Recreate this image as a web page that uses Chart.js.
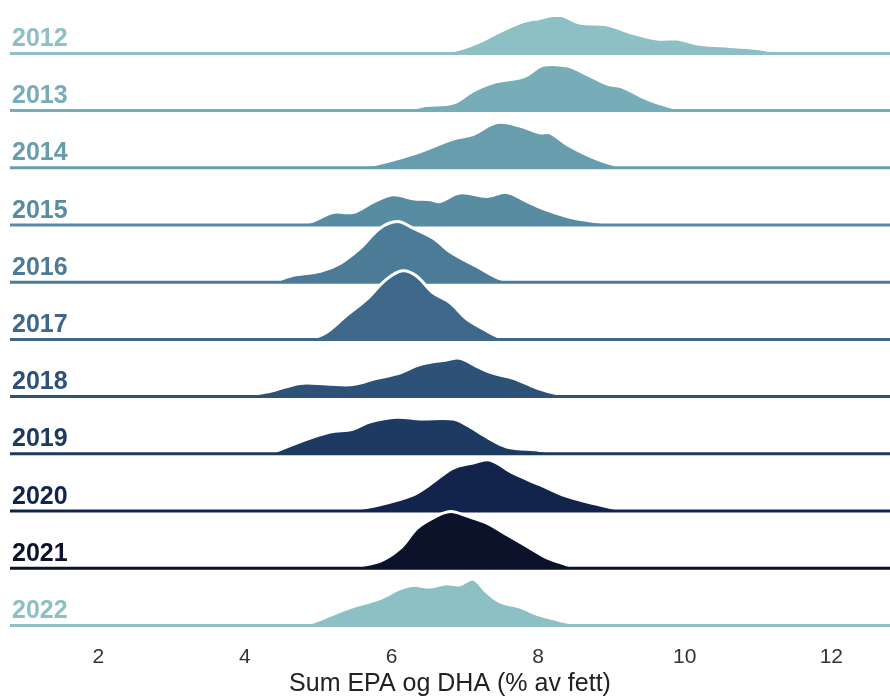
<!DOCTYPE html>
<html>
<head>
<meta charset="utf-8">
<script src="https://cdn.jsdelivr.net/npm/chart.js@4"></script>
<style>
html,body{margin:0;padding:0;background:#fff;}
#wrap{width:890px;height:697px;position:relative;}
</style>
</head>
<body>
<div id="wrap"><canvas id="c"></canvas></div>
<script>
// ---- data ----
const years = ["2012","2013","2014","2015","2016","2017","2018","2019","2020","2021","2022"];
const colors = ["#8cc0c5","#77adb8","#689dae","#588ca2","#4c7b97","#3e6789","#2e5178","#1d3a62","#13244c","#0b1229","#8cc0c5"];
const xTicks = [2,4,6,8,10,12];
const xTitle = "Sum EPA og DHA (% av fett)";

// density curves: x = EPA+DHA (% av fett), h = relative density
const x2012 = [6.66,6.97,7.20,7.43,7.79,8.02,8.29,8.57,8.93,9.29,9.62,9.89,10.21,10.62,11.02,11.30];
const h2012 = [0,0.09,0.20,0.35,0.55,0.61,0.67,0.53,0.50,0.35,0.25,0.25,0.16,0.12,0.08,0];
const x2013 = [6.21,6.43,6.84,7.11,7.39,7.80,8.07,8.40,8.62,8.95,9.13,9.50,9.85,9.99];
const h2013 = [0,0.08,0.13,0.34,0.49,0.59,0.79,0.78,0.66,0.46,0.42,0.19,0.05,0];
const x2014 = [5.53,5.89,6.35,6.84,7.11,7.44,7.75,8.02,8.16,8.39,8.75,9.16];
const h2014 = [0,0.09,0.26,0.50,0.58,0.79,0.73,0.61,0.61,0.41,0.18,0];
const x2015 = [4.66,4.93,5.20,5.48,5.75,6.02,6.29,6.53,6.66,6.93,7.30,7.57,7.85,8.12,8.48,8.94,9.11];
const h2015 = [0,0.07,0.22,0.22,0.40,0.53,0.46,0.44,0.41,0.56,0.50,0.57,0.41,0.26,0.12,0.03,0];
const x2016 = [4.39,4.66,5.03,5.30,5.57,5.84,6.08,6.30,6.57,6.80,7.17,7.48,7.75];
const h2016 = [0,0.12,0.19,0.33,0.59,0.94,1.06,0.94,0.77,0.53,0.27,0.06,0];
const x2017 = [4.88,5.11,5.38,5.66,5.93,6.15,6.34,6.56,6.80,7.03,7.30,7.52];
const h2017 = [0,0.12,0.41,0.70,1.05,1.20,1.11,0.82,0.64,0.35,0.15,0];
const x2018 = [3.84,4.34,4.75,5.11,5.47,5.80,6.11,6.39,6.75,6.93,7.16,7.38,7.66,7.98,8.29,8.53];
const h2018 = [0,0.09,0.23,0.22,0.21,0.32,0.41,0.56,0.64,0.67,0.53,0.41,0.32,0.15,0.04,0];
const x2019 = [4.34,4.75,5.16,5.47,5.71,6.07,6.39,6.84,7.03,7.30,7.57,8.02,8.29];
const h2019 = [0,0.21,0.38,0.43,0.56,0.64,0.61,0.61,0.50,0.29,0.12,0.06,0];
const x2020 = [5.39,5.84,6.29,6.52,6.84,7.11,7.34,7.66,8.02,8.34,8.66,9.02,9.14];
const h2020 = [0,0.11,0.28,0.46,0.75,0.84,0.89,0.66,0.46,0.28,0.16,0.05,0];
const x2021 = [5.39,5.84,6.12,6.35,6.57,6.80,7.03,7.30,7.58,7.85,8.12,8.39,8.53];
const h2021 = [0,0.12,0.35,0.70,0.88,0.99,0.91,0.79,0.58,0.38,0.18,0.06,0];
const x2022 = [4.71,4.93,5.39,5.84,6.11,6.29,6.53,6.75,6.93,7.11,7.30,7.48,7.75,8.02,8.39,8.61];
const h2022 = [0,0.06,0.29,0.47,0.64,0.70,0.67,0.73,0.71,0.81,0.58,0.41,0.32,0.18,0.06,0];

const xs = [x2012,x2013,x2014,x2015,x2016,x2017,x2018,x2019,x2020,x2021,x2022];
const hs = [h2012,h2013,h2014,h2015,h2016,h2017,h2018,h2019,h2020,h2021,h2022];

// ---- layout constants ----
const X_MIN = 0.795, X_MAX = 12.8;
const Y_MIN = -0.321, Y_MAX = 10.636;
const LABEL_LIFT = 0.25;
const n = years.length;

const datasets = [];
years.forEach((yr, i) => {
  const off = n - 1 - i;
  datasets.push({
    label: yr,
    data: xs[i].map((x, k) => ({x: x, y: off + hs[i][k]})),
    borderColor: '#ffffff',
    borderWidth: 3,
    backgroundColor: colors[i],
    fill: {value: off},
    pointRadius: 0,
    tension: 0.35,
    order: (n - i) * 2 + 1
  });
  datasets.push({
    label: yr + ' base',
    data: [{x: X_MIN, y: off}, {x: X_MAX, y: off}],
    borderColor: colors[i],
    borderWidth: 3,
    fill: false,
    pointRadius: 0,
    order: (n - i) * 2
  });
});

const FONT = "'Liberation Sans', Arial, Helvetica, sans-serif";

new Chart(document.getElementById('c'), {
  type: 'line',
  data: {datasets},
  options: {
    responsive: true,
    maintainAspectRatio: false,
    animation: false,
    layout: {padding: {left: 6, right: 0, top: 0, bottom: 0}},
    plugins: {legend: {display: false}, tooltip: {enabled: false}},
    scales: {
      x: {
        type: 'linear',
        min: X_MIN, max: X_MAX,
        grid: {display: false, drawTicks: false},
        border: {display: false},
        afterBuildTicks: (s) => { s.ticks = xTicks.map(v => ({value: v})); },
        ticks: {
          color: '#333333',
          font: {family: FONT, size: 21},
          padding: 1,
          maxRotation: 0,
          callback: (v) => String(v)
        },
        title: {
          display: true,
          text: xTitle,
          color: '#222222',
          font: {family: FONT, size: 25, lineHeight: 1.0},
          padding: {top: 1, bottom: 0}
        }
      },
      y: {
        type: 'linear',
        min: Y_MIN, max: Y_MAX,
        grid: {display: false, drawTicks: false},
        border: {display: false},
        afterBuildTicks: (s) => { s.ticks = years.map((_, i) => ({value: n - 1 - i + LABEL_LIFT})); },
        ticks: {
          mirror: true,
          padding: 2,
          font: {family: FONT, size: 25, weight: 'bold'},
          color: (ctx) => colors[ctx.index],
          callback: (v, idx) => years[idx]
        }
      }
    }
  }
});
</script>
</body>
</html>
